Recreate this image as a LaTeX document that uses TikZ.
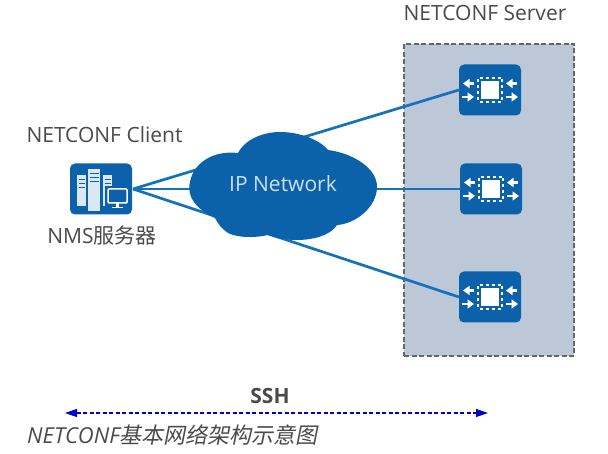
\documentclass[tikz,border=0pt]{standalone}
\usepackage{fontspec}
\setmainfont{Open Sans}
\newfontfamily\cjk{Noto Sans CJK SC}
\usetikzlibrary{arrows.meta}
\definecolor{hwblue}{HTML}{0B62AB}
\definecolor{linkblue}{HTML}{1272BC}
\definecolor{panel}{HTML}{BCC8D8}
\definecolor{txt}{HTML}{4A4A4A}
\tikzset{
  x=1pt,y=-1pt,
  link/.style={line width=2.7pt,linkblue},
  iconbox/.style={fill=hwblue,draw=none,rounded corners=5pt,minimum width=62pt,minimum height=51pt,inner sep=0pt},
  lbl/.style={text=txt,font=\fontsize{21}{24}\selectfont,inner sep=0pt},
  whitearrow/.style={white,line width=2.4pt,-{Triangle[width=9pt,length=6.5pt]}},
  pics/chip/.style={code={
    \fill[white] (-9,-9) rectangle (9,9);
    \foreach \t in {-9,-3,3,9}{
      \fill[white] (\t-1.5,-13) rectangle (\t+1.5,-11);
      \fill[white] (\t-1.5,11) rectangle (\t+1.5,13);
      \fill[white] (-13,\t-1.5) rectangle (-11,\t+1.5);
      \fill[white] (11,\t-1.5) rectangle (13,\t+1.5);
    }
    \draw[whitearrow] (-16,-6.5) -- (-27,-6.5);
    \draw[whitearrow] (-28,7) -- (-16,7);
    \draw[whitearrow] (27,-6.5) -- (16,-6.5);
    \draw[whitearrow] (16,7) -- (28,7);
  }}
}
\begin{document}
\begin{tikzpicture}
\useasboundingbox (0,0) rectangle (608,454);
% server panel
\node[draw=black!60,fill=panel,dash pattern=on 5pt off 2.5pt,line width=2pt,minimum width=170pt,minimum height=312pt,inner sep=0pt] (panel) at (489,200) {};
\node[lbl,anchor=base] (servertitle) at (485,21) {NETCONF Server};
% icons
\node[iconbox] (client) at (101,189) {};
\node[iconbox] (s1) at (490,90) {};
\node[iconbox] (s2) at (491,189) {};
\node[iconbox] (s3) at (490,297) {};
\coordinate (hub) at (133,189);
% links
\draw[link] (hub) -- (s1.west);
\draw[link] (hub) -- (s2.west);
\draw[link] (hub) -- (s3.west);
% chips
\pic at (s1) {chip};
\pic at (s2) {chip};
\pic at (s3) {chip};
% server glyph
\foreach \x/\y/\w/\h in {77/175/9/31,88/169/12/42,103/175/9/31}{
  \fill[white!85!hwblue] (\x,\y) rectangle ++(\w,\h);
  \foreach \k in {4,8,12}{\draw[hwblue,line width=.6pt] (\x+1.5,\y+\k) -- ++(\w-3,0);}
}
\fill[hwblue] (105,186) rectangle (130,212);
\draw[white,line width=1.5pt,rounded corners=1pt] (108,189) rectangle (127,203);
\fill[white] (116,203) rectangle (119,207);
\fill[white] (112,207) rectangle (123,208.5);
% cloud
\fill[hwblue] (215,218)
  .. controls (198,210) and (186,198) .. (190,182)
  .. controls (193,164) and (212,150) .. (238,153)
  .. controls (246,138) and (265,132) .. (280,132)
  .. controls (300,132) and (320,140) .. (328,150)
  .. controls (352,153) and (378,168) .. (377,188)
  .. controls (376,208) and (355,224) .. (337,225)
  .. controls (330,236) and (312,240) .. (297,240)
  .. controls (285,240) and (275,238) .. (268,235)
  .. controls (255,238) and (238,238) .. (228,233)
  .. controls (222,229) and (218,224) .. (215,218) -- cycle;
\node[text=white!80!hwblue,font=\fontsize{21}{24}\selectfont,inner sep=0pt,anchor=base] (cloud) at (283,192) {IP Network};
% labels
\node[lbl,anchor=base] (clienttitle) at (104.5,143) {NETCONF Client};
\node[lbl,anchor=base] (clientname) at (102,244) {NMS{\cjk 服务器}};
% SSH
\node[text=txt,font=\bfseries\fontsize{21}{24}\selectfont,inner sep=0pt,anchor=base] (ssh) at (270,403) {SSH};
\coordinate (sshl) at (65,413);
\coordinate (sshr) at (488,413);
\draw[blue!80!black,line width=1.2pt,dash pattern=on 4pt off 2.5pt,{Triangle[width=8pt,length=12pt]}-{Triangle[width=8pt,length=12pt]}] (sshl) -- (sshr);
\node[lbl,font=\fontsize{22}{24}\selectfont,anchor=base west] (caption) at (27,443) {\itshape NETCONF{\cjk\addfontfeature{FakeSlant=0.2}基本网络架构示意图}};
\end{tikzpicture}
\end{document}
